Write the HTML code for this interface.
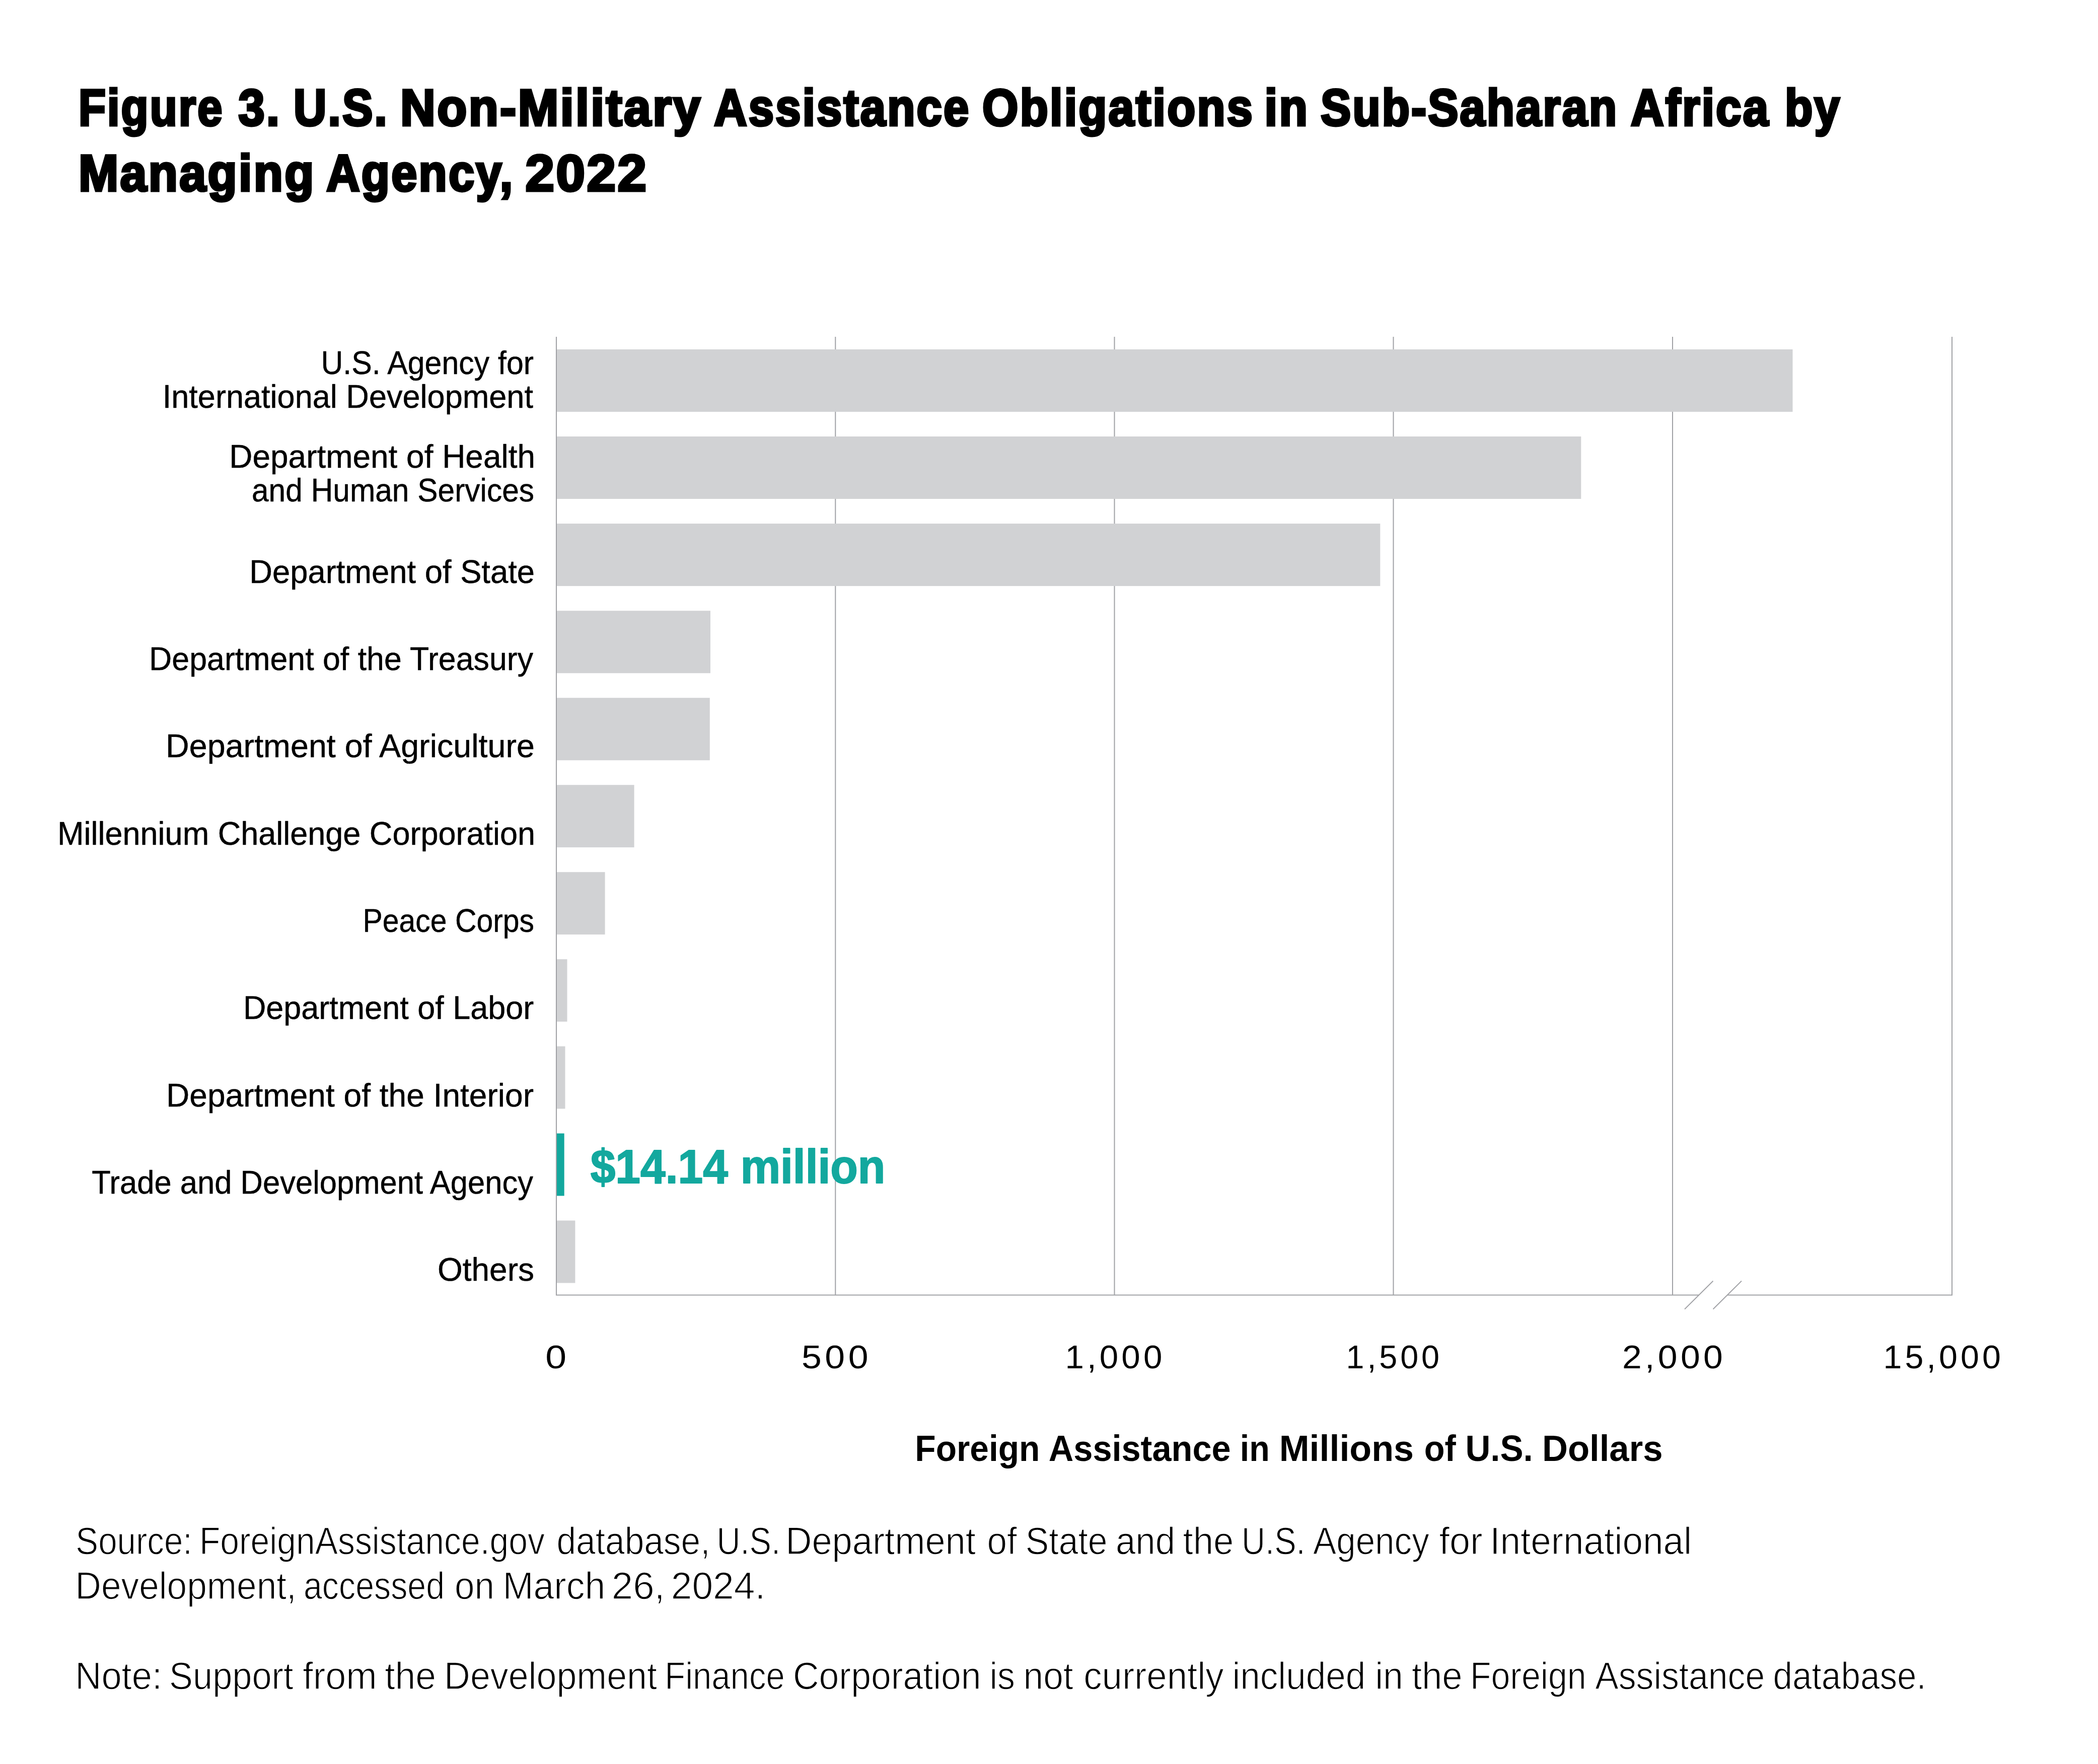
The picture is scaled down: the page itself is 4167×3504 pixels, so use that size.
<!DOCTYPE html>
<html lang="en">
<head>
<meta charset="utf-8">
<title>Figure 3. U.S. Non-Military Assistance Obligations in Sub-Saharan Africa by Managing Agency, 2022</title>
<style>
html,body{margin:0;padding:0;background:#fff;}
body{width:4167px;height:3504px;overflow:hidden;}
svg{display:block;font-family:"Liberation Sans", sans-serif;}
</style>
</head>
<body>
<svg width="4167" height="3504" viewBox="0 0 4167 3504">
<rect x="0" y="0" width="4167" height="3504" fill="#ffffff"/>
<g id="grid">
<rect x="1658.3" y="669" width="2" height="1903.5" fill="#a0a1a5"/>
<rect x="2212.5" y="669" width="2" height="1903.5" fill="#a0a1a5"/>
<rect x="2766.5" y="669" width="2" height="1903.5" fill="#a0a1a5"/>
<rect x="3321.0" y="669" width="2" height="1903.5" fill="#a0a1a5"/>
<rect x="3876.0" y="669" width="2" height="1903.5" fill="#a0a1a5"/>
<rect x="1104" y="2571.5" width="2270.0" height="2" fill="#a0a1a5"/>
<rect x="3431" y="2571.5" width="447" height="2" fill="#a0a1a5"/>
<path d="M3346 2600.5 L3402.5 2544.5 M3402.5 2600.5 L3459 2544.5" stroke="#a0a1a5" stroke-width="1.8" fill="none"/>
</g>
<g id="bars">
<rect x="1105" y="694.0" width="2455.5" height="124" fill="#d1d2d4"/>
<rect x="1105" y="867.0" width="2035.3" height="124" fill="#d1d2d4"/>
<rect x="1105" y="1040.1" width="1636.3" height="124" fill="#d1d2d4"/>
<rect x="1105" y="1213.2" width="306.0" height="124" fill="#d1d2d4"/>
<rect x="1105" y="1386.2" width="304.8" height="124" fill="#d1d2d4"/>
<rect x="1105" y="1559.2" width="154.6" height="124" fill="#d1d2d4"/>
<rect x="1105" y="1732.3" width="96.6" height="124" fill="#d1d2d4"/>
<rect x="1105" y="1905.4" width="21.5" height="124" fill="#d1d2d4"/>
<rect x="1105" y="2078.4" width="17.5" height="124" fill="#d1d2d4"/>
<rect x="1105" y="2251.4" width="15.7" height="124" fill="#13a89e"/>
<rect x="1105" y="2424.5" width="37.4" height="124" fill="#d1d2d4"/>
<rect x="1104" y="669" width="2" height="1903.5" fill="#a0a1a5"/>
</g>
<text y="248.9" font-size="101.5" font-weight="700" fill="#000" stroke="#000" stroke-width="5" stroke-linejoin="miter" letter-spacing="3.5"><tspan x="155.9" textLength="288.5" lengthAdjust="spacingAndGlyphs">Figure</tspan> <tspan x="473.5" textLength="84.8" lengthAdjust="spacingAndGlyphs">3.</tspan> <tspan x="583.0" textLength="188.9" lengthAdjust="spacingAndGlyphs">U.S.</tspan> <tspan x="794.9" textLength="599.5" lengthAdjust="spacingAndGlyphs">Non-Military</tspan> <tspan x="1418.3" textLength="509.2" lengthAdjust="spacingAndGlyphs">Assistance</tspan> <tspan x="1951.1" textLength="539.9" lengthAdjust="spacingAndGlyphs">Obligations</tspan> <tspan x="2511.6" textLength="88.6" lengthAdjust="spacingAndGlyphs">in</tspan> <tspan x="2623.1" textLength="591.2" lengthAdjust="spacingAndGlyphs">Sub-Saharan</tspan> <tspan x="3239.0" textLength="276.4" lengthAdjust="spacingAndGlyphs">Africa</tspan> <tspan x="3544.9" textLength="112.1" lengthAdjust="spacingAndGlyphs">by</tspan></text>
<text y="378.9" font-size="101.5" font-weight="700" fill="#000" stroke="#000" stroke-width="5" stroke-linejoin="miter" letter-spacing="3.5"><tspan x="155.9" textLength="470.8" lengthAdjust="spacingAndGlyphs">Managing</tspan> <tspan x="648.2" textLength="373.4" lengthAdjust="spacingAndGlyphs">Agency,</tspan> <tspan x="1043.5" textLength="244.1" lengthAdjust="spacingAndGlyphs">2022</tspan></text>
<text y="2349.8" font-size="95" font-weight="700" fill="#13a89e" stroke="#13a89e" stroke-width="2" stroke-linejoin="round" x="1172.7" textLength="585.7" lengthAdjust="spacingAndGlyphs">$14.14 million</text>
<text y="2902" font-size="73" font-weight="700" fill="#000"><tspan x="1817.3" textLength="248.1" lengthAdjust="spacingAndGlyphs">Foreign</tspan> <tspan x="2082.8" textLength="361.8" lengthAdjust="spacingAndGlyphs">Assistance</tspan> <tspan x="2462.7" textLength="59.0" lengthAdjust="spacingAndGlyphs">in</tspan> <tspan x="2540.8" textLength="267.2" lengthAdjust="spacingAndGlyphs">Millions</tspan> <tspan x="2828.8" textLength="63.0" lengthAdjust="spacingAndGlyphs">of</tspan> <tspan x="2910.4" textLength="134.4" lengthAdjust="spacingAndGlyphs">U.S.</tspan> <tspan x="3062.9" textLength="239.6" lengthAdjust="spacingAndGlyphs">Dollars</tspan></text>
<text y="3086.6" font-size="76" font-weight="400" fill="#000" stroke="#fff" stroke-width="1.4" stroke-linejoin="round"><tspan x="150.3" textLength="231.7" lengthAdjust="spacingAndGlyphs">Source:</tspan> <tspan x="395.9" textLength="685.9" lengthAdjust="spacingAndGlyphs">ForeignAssistance.gov</tspan> <tspan x="1105.5" textLength="305.0" lengthAdjust="spacingAndGlyphs">database,</tspan> <tspan x="1423.4" textLength="126.6" lengthAdjust="spacingAndGlyphs">U.S.</tspan> <tspan x="1560.2" textLength="377.7" lengthAdjust="spacingAndGlyphs">Department</tspan> <tspan x="1960.6" textLength="59.2" lengthAdjust="spacingAndGlyphs">of</tspan> <tspan x="2036.8" textLength="162.8" lengthAdjust="spacingAndGlyphs">State</tspan> <tspan x="2215.9" textLength="118.2" lengthAdjust="spacingAndGlyphs">and</tspan> <tspan x="2349.5" textLength="100.8" lengthAdjust="spacingAndGlyphs">the</tspan> <tspan x="2466.1" textLength="126.6" lengthAdjust="spacingAndGlyphs">U.S.</tspan> <tspan x="2608.0" textLength="230.8" lengthAdjust="spacingAndGlyphs">Agency</tspan> <tspan x="2858.6" textLength="86.0" lengthAdjust="spacingAndGlyphs">for</tspan> <tspan x="2959.3" textLength="400.9" lengthAdjust="spacingAndGlyphs">International</tspan></text>
<text y="3176.3" font-size="76" font-weight="400" fill="#000" stroke="#fff" stroke-width="1.4" stroke-linejoin="round"><tspan x="149.6" textLength="439.2" lengthAdjust="spacingAndGlyphs">Development,</tspan> <tspan x="603.0" textLength="280.0" lengthAdjust="spacingAndGlyphs">accessed</tspan> <tspan x="903.0" textLength="78.9" lengthAdjust="spacingAndGlyphs">on</tspan> <tspan x="998.4" textLength="203.9" lengthAdjust="spacingAndGlyphs">March</tspan> <tspan x="1214.8" textLength="106.0" lengthAdjust="spacingAndGlyphs">26,</tspan> <tspan x="1332.7" textLength="187.6" lengthAdjust="spacingAndGlyphs">2024.</tspan></text>
<text y="3355" font-size="76" font-weight="400" fill="#000" stroke="#fff" stroke-width="1.4" stroke-linejoin="round"><tspan x="149.2" textLength="172.8" lengthAdjust="spacingAndGlyphs">Note:</tspan> <tspan x="336.1" textLength="246.5" lengthAdjust="spacingAndGlyphs">Support</tspan> <tspan x="601.2" textLength="147.5" lengthAdjust="spacingAndGlyphs">from</tspan> <tspan x="764.2" textLength="101.9" lengthAdjust="spacingAndGlyphs">the</tspan> <tspan x="882.1" textLength="422.8" lengthAdjust="spacingAndGlyphs">Development</tspan> <tspan x="1320.2" textLength="238.5" lengthAdjust="spacingAndGlyphs">Finance</tspan> <tspan x="1574.9" textLength="373.7" lengthAdjust="spacingAndGlyphs">Corporation</tspan> <tspan x="1965.4" textLength="50.4" lengthAdjust="spacingAndGlyphs">is</tspan> <tspan x="2032.5" textLength="99.1" lengthAdjust="spacingAndGlyphs">not</tspan> <tspan x="2152.2" textLength="278.5" lengthAdjust="spacingAndGlyphs">currently</tspan> <tspan x="2447.4" textLength="265.0" lengthAdjust="spacingAndGlyphs">included</tspan> <tspan x="2731.2" textLength="55.7" lengthAdjust="spacingAndGlyphs">in</tspan> <tspan x="2803.9" textLength="100.8" lengthAdjust="spacingAndGlyphs">the</tspan> <tspan x="2919.9" textLength="230.7" lengthAdjust="spacingAndGlyphs">Foreign</tspan> <tspan x="3168.3" textLength="336.9" lengthAdjust="spacingAndGlyphs">Assistance</tspan> <tspan x="3521.6" textLength="304.2" lengthAdjust="spacingAndGlyphs">database.</tspan></text>
<text y="742.6" font-size="65" font-weight="400" fill="#000" stroke="#000" stroke-width="0.5" stroke-linejoin="round" x="637.4" textLength="422.6" lengthAdjust="spacingAndGlyphs">U.S. Agency for</text>
<text y="810" font-size="65" font-weight="400" fill="#000" stroke="#000" stroke-width="0.5" stroke-linejoin="round" x="322.7" textLength="736.3" lengthAdjust="spacingAndGlyphs">International Development</text>
<text y="928.8" font-size="65" font-weight="400" fill="#000" stroke="#000" stroke-width="0.5" stroke-linejoin="round" x="455.3" textLength="607.7" lengthAdjust="spacingAndGlyphs">Department of Health</text>
<text y="995.5" font-size="65" font-weight="400" fill="#000" stroke="#000" stroke-width="0.5" stroke-linejoin="round" x="500.0" textLength="561.0" lengthAdjust="spacingAndGlyphs">and Human Services</text>
<text y="1158" font-size="65" font-weight="400" fill="#000" stroke="#000" stroke-width="0.5" stroke-linejoin="round" x="495.3" textLength="566.7" lengthAdjust="spacingAndGlyphs">Department of State</text>
<text y="1331" font-size="65" font-weight="400" fill="#000" stroke="#000" stroke-width="0.5" stroke-linejoin="round" x="296.1" textLength="762.9" lengthAdjust="spacingAndGlyphs">Department of the Treasury</text>
<text y="1504.3" font-size="65" font-weight="400" fill="#000" stroke="#000" stroke-width="0.5" stroke-linejoin="round" x="329.1" textLength="732.9" lengthAdjust="spacingAndGlyphs">Department of Agriculture</text>
<text y="1678" font-size="65" font-weight="400" fill="#000" stroke="#000" stroke-width="0.5" stroke-linejoin="round" x="114.0" textLength="949.1" lengthAdjust="spacingAndGlyphs">Millennium Challenge Corporation</text>
<text y="1850.5" font-size="65" font-weight="400" fill="#000" stroke="#000" stroke-width="0.5" stroke-linejoin="round" x="720.5" textLength="340.5" lengthAdjust="spacingAndGlyphs">Peace Corps</text>
<text y="2023.8" font-size="65" font-weight="400" fill="#000" stroke="#000" stroke-width="0.5" stroke-linejoin="round" x="482.9" textLength="577.2" lengthAdjust="spacingAndGlyphs">Department of Labor</text>
<text y="2197.5" font-size="65" font-weight="400" fill="#000" stroke="#000" stroke-width="0.5" stroke-linejoin="round" x="330.1" textLength="729.9" lengthAdjust="spacingAndGlyphs">Department of the Interior</text>
<text y="2371" font-size="65" font-weight="400" fill="#000" stroke="#000" stroke-width="0.5" stroke-linejoin="round" x="182.2" textLength="876.8" lengthAdjust="spacingAndGlyphs">Trade and Development Agency</text>
<text y="2543.5" font-size="65" font-weight="400" fill="#000" stroke="#000" stroke-width="0.5" stroke-linejoin="round" x="868.9" textLength="192.1" lengthAdjust="spacingAndGlyphs">Others</text>
<text y="2718" font-size="65.5" font-weight="400" fill="#000" letter-spacing="6" x="1083.3" textLength="48.7" lengthAdjust="spacingAndGlyphs">0</text>
<text y="2718" font-size="65.5" font-weight="400" fill="#000" letter-spacing="6" x="1592.0" textLength="139.1" lengthAdjust="spacingAndGlyphs">500</text>
<text y="2718" font-size="65.5" font-weight="400" fill="#000" letter-spacing="6" x="2115.4" textLength="199.1" lengthAdjust="spacingAndGlyphs">1,000</text>
<text y="2718" font-size="65.5" font-weight="400" fill="#000" letter-spacing="6" x="2673.6" textLength="191.4" lengthAdjust="spacingAndGlyphs">1,500</text>
<text y="2718" font-size="65.5" font-weight="400" fill="#000" letter-spacing="6" x="3221.9" textLength="206.3" lengthAdjust="spacingAndGlyphs">2,000</text>
<text y="2718" font-size="65.5" font-weight="400" fill="#000" letter-spacing="6" x="3740.5" textLength="239.4" lengthAdjust="spacingAndGlyphs">15,000</text>
</svg>
</body>
</html>
